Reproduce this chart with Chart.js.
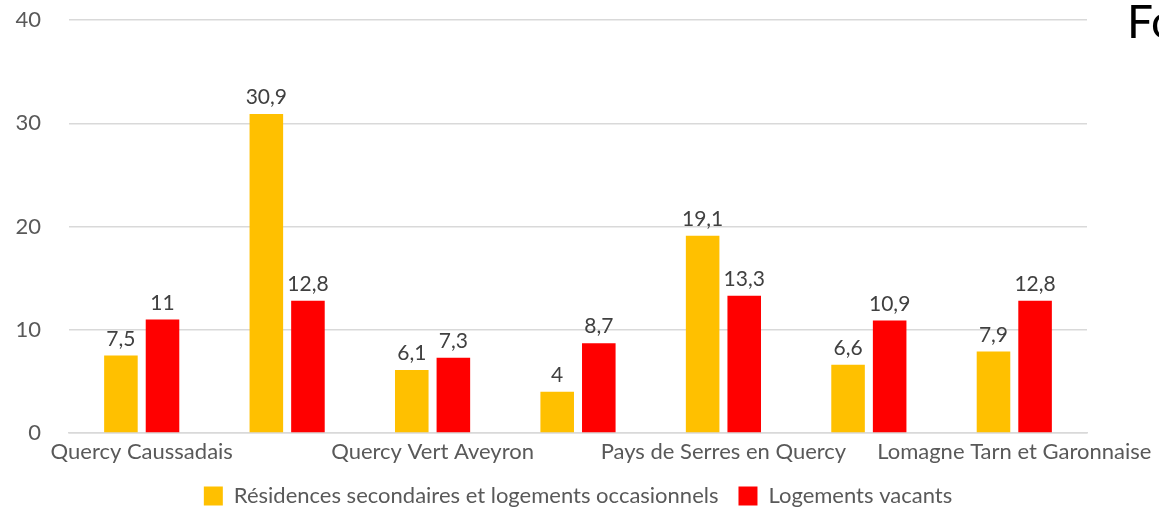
<!DOCTYPE html>
<html>
<head>
<meta charset="utf-8">
<script src="https://cdn.jsdelivr.net/npm/chart.js@4"></script>
<style>
  html, body { margin: 0; padding: 0; background: #fff; overflow: hidden; }
  #wrap { position: relative; width: 1159px; height: 508px; }
  #title { position: absolute; left: 1127px; top: -7px; font-family: Lato, sans-serif; font-size: 46px; color: #000; white-space: nowrap; }
</style>
</head>
<body>
<div id="wrap">
  <canvas id="graph" width="1159" height="508"></canvas>
  <div id="title">Fo</div>
</div>
<script>
// categories (only every other one gets its name printed on the axis)
var territoires = [
  "Quercy Caussadais",
  "Quercy Rouergue et Gorges de l'Aveyron",
  "Quercy Vert Aveyron",
  "Terrasses et Vallée de l'Aveyron",
  "Pays de Serres en Quercy",
  "Deux Rives",
  "Lomagne Tarn et Garonnaise"
];
var residencesSecondaires = [7.5, 30.9, 6.1, 4, 19.1, 6.6, 7.9];
var logementsVacants = [11, 12.8, 7.3, 8.7, 13.3, 10.9, 12.8];
var yTicks = [0, 10, 20, 30, 40];

var textColor = "#595959";
var fontFamily = "Lato, 'Open Sans', sans-serif";

// prints the value above every bar, french decimal comma
var valueLabels = {
  id: 'valueLabels',
  afterDatasetsDraw: function(chart) {
    var ctx = chart.ctx;
    ctx.save();
    ctx.font = "21px " + fontFamily;
    ctx.fillStyle = "#404040";
    ctx.textAlign = "center";
    ctx.textBaseline = "bottom";
    chart.data.datasets.forEach(function(ds, i) {
      chart.getDatasetMeta(i).data.forEach(function(bar, j) {
        ctx.fillText(String(ds.data[j]).replace('.', ','), bar.x, bar.y - 6);
      });
    });
    ctx.restore();
  }
};

var ctx = document.getElementById("graph").getContext("2d");
var graph = new Chart(ctx, {
  type: 'bar',
  data: {
    labels: territoires,
    datasets: [
      {
        label: "Résidences secondaires et logements occasionnels",
        data: residencesSecondaires,
        backgroundColor: "#FFC000",
        categoryPercentage: 0.572,
        barPercentage: 0.807
      },
      {
        label: "Logements vacants",
        data: logementsVacants,
        backgroundColor: "#FF0000",
        categoryPercentage: 0.572,
        barPercentage: 0.807
      }
    ]
  },
  options: {
    responsive: false,
    devicePixelRatio: 1,
    animation: false,
    layout: { padding: { top: 0, right: 72, left: 0, bottom: -9 } },
    scales: {
      x: {
        // labels may overflow the plot on the right, like the original
        afterFit: function(scale) {
          scale.height = 32;
          scale.paddingLeft = 0;
          scale.paddingRight = 0;
        },
        grid: { display: false, drawTicks: false },
        border: { color: "#D9D9D9", width: 1.5 },
        ticks: {
          autoSkip: false,
          maxRotation: 0,
          minRotation: 0,
          padding: 6,
          color: textColor,
          font: { family: fontFamily, size: 22 },
          callback: function(value, index) {
            return index % 2 === 0 ? this.getLabelForValue(value) : '';
          }
        }
      },
      y: {
        min: 0,
        max: 40,
        // fixed axis width, and only a small gap above the 40 line
        afterFit: function(scale) {
          scale.width = 69;
          scale.paddingTop = 20;
          scale.paddingBottom = 0;
        },
        afterBuildTicks: function(scale) {
          scale.ticks = yTicks.map(function(v) { return { value: v }; });
        },
        grid: { color: "#D9D9D9", lineWidth: 1.5, drawTicks: false },
        border: { display: false },
        ticks: {
          padding: 28,
          color: textColor,
          font: { family: fontFamily, size: 22 }
        }
      }
    },
    plugins: {
      legend: {
        position: 'bottom',
        fullSize: false,
        labels: {
          boxWidth: 19,
          boxHeight: 19,
          padding: 20,
          color: textColor,
          font: { family: fontFamily, size: 22 }
        }
      },
      tooltip: { enabled: false }
    }
  },
  plugins: [valueLabels]
});
</script>
</body>
</html>
